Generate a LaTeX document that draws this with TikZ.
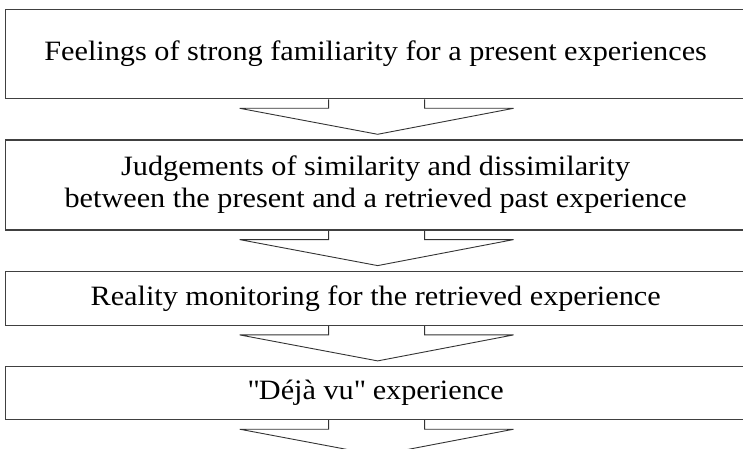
\documentclass[tikz,border=0pt]{standalone}
\usepackage{fontspec}
\setmainfont{Liberation Serif}[FakeStretch=1.08]
\usetikzlibrary{positioning, calc}
\tikzstyle{stage}=[draw=black!75, line width=1.3pt, fill=white, inner sep=0pt,
  minimum width=740pt, align=center, font=\fontsize{28}{32}\selectfont]
\tikzstyle{blockArrow}=[draw=black!80, line width=0.9pt, line join=miter]

\begin{document}
\begin{tikzpicture}[x=1pt, y=-1pt]
  \useasboundingbox (0,0) rectangle (743,449);
  \node[stage, minimum height=89pt, anchor=north west] (b1) at (5,9)
    {Feelings of strong familiarity for a present experiences};
  \node[stage, minimum height=90pt, below=40pt of b1] (b2)
    {Judgements of similarity and dissimilarity\\between the present and a retrieved past experience};
  \node[stage, minimum height=54pt, below=40pt of b2] (b3)
    {Reality monitoring for the retrieved experience};
  \node[stage, minimum height=53pt, below=40pt of b3] (b4)
    {\textquotedbl Déjà vu\textquotedbl{} experience};
  \coordinate (end) at ($(b4.south)+(0,40)$);

  % wide outline arrows hanging under each box
  \foreach \a/\t in {b1/b2.north, b2/b3.north, b3/b4.north, b4/end}
    \draw[blockArrow] ($(\a.south)+(-47,0)$) -- ++(0,9) -- ++(-89,0)
      -- ($(\t)+(2,-5)$) -- ($(\a.south)+(138,9)$) -- ++(-89,0) -- ++(0,-9);
\end{tikzpicture}
\end{document}
